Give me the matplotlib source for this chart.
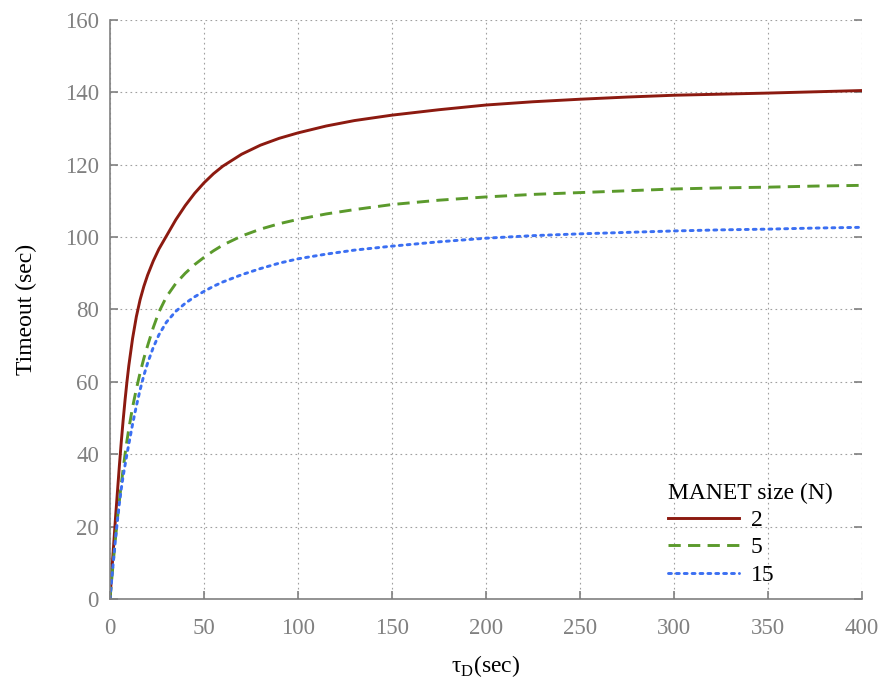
import matplotlib
matplotlib.use("Agg")
import matplotlib.pyplot as plt

plt.rcParams['font.family'] = ['Liberation Serif', 'DejaVu Serif']
plt.rcParams['mathtext.fontset'] = 'custom'
plt.rcParams['mathtext.rm'] = 'Liberation Serif'

# delay tau_D (sec) and timeout (sec) for each MANET size
tau = [0, 1, 2, 3, 4, 5, 6, 7, 8, 9, 10, 12, 14, 16, 18, 20, 23, 26, 30, 35, 40, 45, 50, 55, 60,
       70, 80, 90, 100, 115, 130, 150, 175, 200, 225, 250, 275, 300, 325, 350, 375, 400]
timeout_n2 = [0, 8, 15.5, 23, 30, 37, 43.5, 49.5, 55, 60, 64.5, 72, 78, 82.7, 86.4, 89.5, 93.4, 96.7,
              100.3, 104.8, 108.7, 112.1, 115.0, 117.5, 119.6, 122.9, 125.4, 127.3, 128.8, 130.7,
              132.2, 133.7, 135.2, 136.5, 137.4, 138.1, 138.7, 139.2, 139.5, 139.8, 140.15, 140.5]
timeout_n5 = [0, 6, 11.8, 17.3, 22.5, 27.3, 31.8, 36, 40, 43.7, 47, 53, 58, 62.5, 66.5, 70, 75, 79.3,
              83.5, 87.2, 90, 92.4, 94.4, 96.2, 97.8, 100.3, 102.2, 103.7, 104.9, 106.4, 107.6,
              109.0, 110.2, 111.1, 111.8, 112.3, 112.8, 113.3, 113.6, 113.8, 114.1, 114.3]
timeout_n15 = [0, 6, 11.5, 17, 22, 26.5, 30.5, 34, 37, 40, 42.8, 48.3, 53.3, 57.8, 61.8, 65.2, 69.5,
               73, 76.5, 79.5, 81.7, 83.5, 85.0, 86.4, 87.6, 89.6, 91.3, 92.8, 94.0, 95.3, 96.4,
               97.5, 98.7, 99.7, 100.4, 100.9, 101.3, 101.7, 102.0, 102.2, 102.5, 102.7]

xticks = [0, 50, 100, 150, 200, 250, 300, 350, 400]
yticks = [0, 20, 40, 60, 80, 100, 120, 140, 160]

grey = '#808080'

fig = plt.figure(figsize=(8.83, 6.84), dpi=100)
ax = fig.add_axes([0.1246, 0.1243, 0.8516, 0.8465])

ax.plot(tau, timeout_n2, color='#8c1a10', lw=2.1, label='2')
ax.plot(tau, timeout_n5, color='#5b9a2c', lw=2.1, linestyle=(0, (4.2, 2.5)), label='5')
ax.plot(tau, timeout_n15, color='#3b6ff2', lw=2.1, linestyle=(0, (1, 1.7)),
        dash_capstyle='round', label='15')

ax.set_xlim(0, 400)
ax.set_ylim(0, 160)
ax.set_xticks(xticks)
ax.set_yticks(yticks)
ax.grid(True, linestyle=(0, (1.5, 3)), color='#a0a0a0', lw=0.8)

for s in ['top', 'right']:
    ax.spines[s].set_visible(False)
for s in ['left', 'bottom']:
    ax.spines[s].set_color(grey)
    ax.spines[s].set_linewidth(1.2)
ax.tick_params(direction='in', length=6, width=1.2, color=grey, labelcolor=grey,
               labelsize=16.5, right=True, top=False)
ax.tick_params(axis='x', pad=14)
ax.tick_params(axis='y', pad=8)

ax.set_xlabel('τ$_{\\mathrm{D}}$(sec)', fontsize=17, labelpad=10)
ax.set_ylabel('Timeout (sec)', fontsize=17, labelpad=20)

leg = ax.legend(title='MANET size (N)', loc='lower left', bbox_to_anchor=(0.72, -0.006),
                frameon=False, fontsize=17, title_fontsize=17, handlelength=3.0,
                handletextpad=0.5, labelspacing=0.25, borderpad=0.2)
leg._legend_box.align = 'left'

fig.savefig('out.png', dpi=100)
